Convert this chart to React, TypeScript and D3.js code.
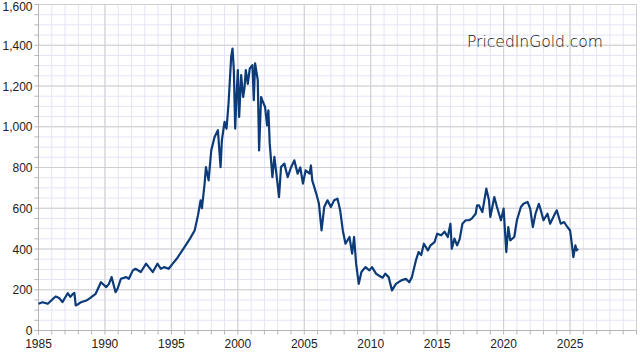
import React from "react";
import * as d3 from "d3";

// decimal year of each reading
const years = [
  1985.0, 1985.3, 1985.7, 1986.1, 1986.3, 1986.55, 1986.8, 1987.2, 1987.4, 1987.6, 1987.7, 1987.8,
  1988.0, 1988.2, 1988.6, 1988.9, 1989.3, 1989.7, 1990.1, 1990.3, 1990.5, 1990.8, 1990.95,
  1991.2, 1991.6, 1991.8, 1992.1, 1992.3, 1992.7, 1993.1, 1993.3, 1993.6, 1993.95, 1994.2,
  1994.45, 1994.8, 1995.1, 1995.4, 1995.9, 1996.4, 1996.75, 1997.0, 1997.2, 1997.3, 1997.5,
  1997.6, 1997.8, 1998.0, 1998.25, 1998.5, 1998.7, 1998.8, 1999.0, 1999.15, 1999.3, 1999.5,
  1999.6, 1999.7, 1999.8, 1999.9, 2000.0, 2000.1, 2000.25, 2000.4, 2000.5, 2000.6, 2000.75,
  2000.9, 2001.1, 2001.2, 2001.3, 2001.5, 2001.6, 2001.75, 2001.9, 2002.05, 2002.2, 2002.3,
  2002.4, 2002.6, 2002.75, 2002.9, 2003.1, 2003.25, 2003.5, 2003.75, 2004.0, 2004.25, 2004.5,
  2004.7, 2004.9, 2005.1, 2005.4, 2005.5, 2005.6, 2005.9, 2006.1, 2006.3, 2006.5, 2006.75,
  2007.0, 2007.25, 2007.5, 2007.7, 2007.9, 2008.1, 2008.4, 2008.6, 2008.75, 2008.9, 2009.1,
  2009.3, 2009.6, 2009.9, 2010.1, 2010.4, 2010.6, 2010.9, 2011.1, 2011.35, 2011.6, 2011.9,
  2012.3, 2012.65, 2012.9, 2013.1, 2013.4, 2013.6, 2013.8, 2014.0, 2014.3, 2014.5, 2014.8,
  2015.0, 2015.3, 2015.55, 2015.8, 2016.0, 2016.1, 2016.3, 2016.5, 2016.7, 2016.9, 2017.15,
  2017.4, 2017.6, 2017.9, 2018.0, 2018.15, 2018.4, 2018.7, 2018.9, 2019.0, 2019.3, 2019.5,
  2019.8, 2020.0, 2020.1, 2020.2, 2020.35, 2020.5, 2020.8, 2021.0, 2021.3, 2021.5, 2021.8,
  2022.0, 2022.2, 2022.4, 2022.65, 2022.8, 2023.0, 2023.3, 2023.5, 2023.8, 2024.0, 2024.3,
  2024.55, 2024.8, 2025.0, 2025.1, 2025.25, 2025.4, 2025.5, 2025.6,
];

// price of the index, in ounces of gold terms
const values = [
  131, 139, 131, 156, 167, 160, 139, 183, 165, 180, 185, 123,
  130, 139, 147, 160, 180, 237, 213, 229, 262, 188, 205,
  254, 262, 254, 295, 303, 287, 328, 311, 287, 328, 303,
  311, 303, 328, 352, 401, 451, 491, 565, 639, 600, 721,
  802, 737, 884, 950, 983, 802, 934, 1024, 990, 1114, 1343,
  1384, 1278, 991, 1146, 1278, 1048, 1253, 1146, 1190, 1278, 1210,
  1286, 1302, 1130, 1311, 1229, 884, 1146, 1120, 1097, 1007, 1080,
  917, 753, 852, 770, 655, 802, 819, 753, 800, 835, 770,
  800, 721, 786, 770, 810, 737, 672, 623, 491, 606, 639,
  606, 639, 647, 590, 491, 426, 459, 377, 459, 328, 229,
  287, 311, 295, 311, 279, 270, 259, 279, 262, 197, 229,
  246, 254, 237, 262, 344, 385, 370, 426, 393, 418, 434,
  475, 467, 485, 459, 524, 401, 451, 418, 450, 524, 541,
  541, 549, 573, 614, 614, 581, 696, 639, 557, 655, 606,
  541, 598, 491, 385, 508, 442, 459, 541, 606, 622, 631,
  598, 508, 573, 622, 590, 541, 573, 524, 565, 590, 524,
  532, 508, 491, 442, 360, 418, 393, 401,
];

const yTicks = [0, 200, 400, 600, 800, 1000, 1200, 1400, 1600];
const xTicks = [1985, 1990, 1995, 2000, 2005, 2010, 2015, 2020, 2025];

const W = 640;
const H = 353;
const left = 38.5;
const right = 636.5;
const top = 4.5;
const bottom = 330.5;

export default function App() {
  const x = d3.scaleLinear().domain([1985, 2030]).range([left, right]);
  const y = d3.scaleLinear().domain([0, 1600]).range([bottom, top]);

  const minorX = d3.range(1985, 2031, 1);
  const minorY = d3.range(0, 1601, 50);

  const pts = years.map((yr, i) => [yr, values[i]] as [number, number]);
  const line = d3
    .line<[number, number]>()
    .x((d) => x(d[0]))
    .y((d) => y(d[1]));

  const fmt = d3.format(",");

  return (
    <svg
      width={W}
      height={H}
      style={{ position: "absolute", left: 0, top: 0, background: "#fff" }}
      fontFamily="'Liberation Sans', Arial, sans-serif"
    >
      {/* minor grid */}
      {minorX.map((v) => (
        <line key={"mx" + v} x1={x(v)} x2={x(v)} y1={top} y2={bottom} stroke="#e4e4f8" />
      ))}
      {minorY.map((v) => (
        <line key={"my" + v} x1={left} x2={right} y1={y(v)} y2={y(v)} stroke="#e4e4f8" />
      ))}
      {/* major grid */}
      {xTicks.map((v) => (
        <line key={"gx" + v} x1={x(v)} x2={x(v)} y1={top} y2={bottom} stroke="#cfcfcf" />
      ))}
      {yTicks.map((v) => (
        <line key={"gy" + v} x1={left} x2={right} y1={y(v)} y2={y(v)} stroke="#cfcfcf" />
      ))}
      <line x1={right} x2={right} y1={top} y2={bottom} stroke="#cfcfcf" />

      {/* axes */}
      <line x1={left} x2={left} y1={top} y2={bottom + 4} stroke="#b5b5b5" />
      <line x1={left - 4} x2={right} y1={bottom} y2={bottom} stroke="#b5b5b5" />
      {minorY.map((v) => (
        <line key={"ty" + v} x1={left - 4} x2={left} y1={y(v)} y2={y(v)} stroke="#b5b5b5" />
      ))}
      {minorX.map((v) => (
        <line key={"tx" + v} x1={x(v)} x2={x(v)} y1={bottom} y2={bottom + 4} stroke="#b5b5b5" />
      ))}

      {yTicks.map((v) => (
        <text
          key={"ly" + v}
          x={left - 6}
          y={Math.max(y(v) + 4.5, 10.5)}
          fontSize={12}
          textAnchor="end"
          fill="#222"
        >
          {fmt(v)}
        </text>
      ))}
      {xTicks.map((v) => (
        <text key={"lx" + v} x={x(v)} y={348} fontSize={12} textAnchor="middle" fill="#222">
          {v}
        </text>
      ))}

      <text
        x={467}
        y={46.5}
        fontSize={16.5}
        fontFamily="'DejaVu Sans', sans-serif"
        fontWeight={200}
        textLength={136}
        lengthAdjust="spacingAndGlyphs"
        fill="#111"
      >
        PricedInGold.com
      </text>

      <path d={line(pts) ?? ""} fill="none" stroke="#0d3b78" strokeWidth={2.2} strokeLinejoin="round" />
    </svg>
  );
}
